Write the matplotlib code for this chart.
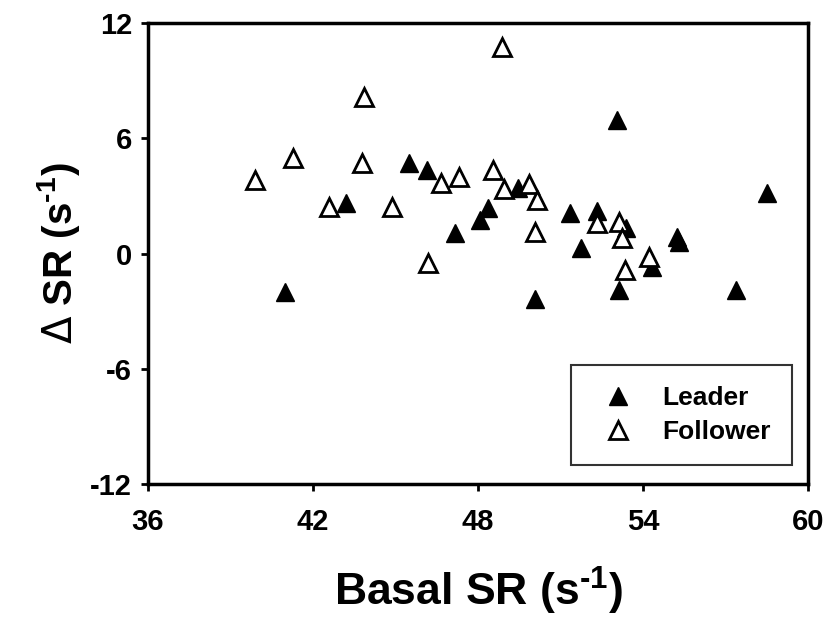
import matplotlib
matplotlib.use("Agg")
import matplotlib.pyplot as plt

plt.rcParams['font.family'] = ['Liberation Sans', 'DejaVu Sans']
plt.rcParams['font.weight'] = 'bold'
plt.rcParams['mathtext.fontset'] = 'custom'
plt.rcParams['mathtext.rm'] = 'Liberation Sans:bold'
plt.rcParams['mathtext.bf'] = 'Liberation Sans:bold'
plt.rcParams['mathtext.it'] = 'Liberation Sans:bold'
plt.rcParams['mathtext.sf'] = 'DejaVu Sans:normal'

leader_x = [41.0, 43.19, 45.48, 46.16, 47.16, 48.07, 48.38, 49.47, 50.06, 51.35,
            51.75, 52.34, 53.04, 53.14, 53.38, 54.33, 55.24, 55.3, 57.4, 58.5]
leader_y = [-1.99, 2.65, 4.73, 4.35, 1.05, 1.74, 2.35, 3.39, -2.39, 2.13,
            0.30, 2.23, 6.95, -1.9, 1.31, -0.72, 0.85, 0.6, -1.9, 3.17]

follower_x = [39.9, 41.28, 42.58, 43.77, 43.85, 44.88, 46.17, 46.65, 47.3, 48.56,
              48.86, 48.95, 49.87, 50.07, 50.16, 52.34, 53.14, 53.25, 53.35, 54.22]
follower_y = [3.83, 4.96, 2.4, 4.73, 8.17, 2.4, -0.48, 3.65, 3.97, 4.35,
              10.77, 3.36, 3.62, 1.14, 2.79, 1.6, 1.66, 0.79, -0.86, -0.17]

xticks = [36, 42, 48, 54, 60]
yticks = [-12, -6, 0, 6, 12]

fig = plt.figure(figsize=(8.28, 6.19), dpi=100)
ax = fig.add_axes([0.1787, 0.2181, 0.9758 - 0.1787, 0.9628 - 0.2181])

ax.plot(leader_x, leader_y, linestyle='none', marker='^', markersize=13,
        color='black', markeredgecolor='black', label='Leader', clip_on=False)
ax.plot(follower_x, follower_y, linestyle='none', marker='^', markersize=12.5,
        markerfacecolor='white', markeredgecolor='black', markeredgewidth=2,
        label='Follower', clip_on=False)

ax.set_xlim(36, 60)
ax.set_ylim(-12, 12)
ax.set_xticks(xticks)
ax.set_yticks(yticks)
ax.set_xticklabels([str(v) for v in xticks], fontsize=21, fontweight='bold')
ax.set_yticklabels([str(v) for v in yticks], fontsize=21, fontweight='bold')
ax.tick_params(direction='out', length=5, width=2)
ax.tick_params(axis='x', pad=12)
ax.tick_params(axis='y', pad=6.5)

for s in ax.spines.values():
    s.set_linewidth(2.5)
    s.set_color('black')

ax.set_xlabel(r'Basal SR (s$^{\text{-1}}$)', fontsize=32, fontweight='bold', labelpad=21)
ax.set_ylabel(r'$\mathsf{\Delta}$ SR (s$^{\text{-1}}$)', fontsize=29, fontweight='bold', labelpad=6)

leg = ax.legend(loc='lower right', bbox_to_anchor=(0.976, 0.041), fontsize=19,
                markerscale=1.0, handlelength=1.94, handletextpad=0.73, borderpad=0.8,
                labelspacing=0.36, borderaxespad=0, fancybox=False, frameon=True)
leg.get_frame().set_edgecolor('black')
leg.get_frame().set_linewidth(1.5)
for t in leg.get_texts():
    t.set_fontweight('bold')

fig.savefig('out.png', dpi=100)
